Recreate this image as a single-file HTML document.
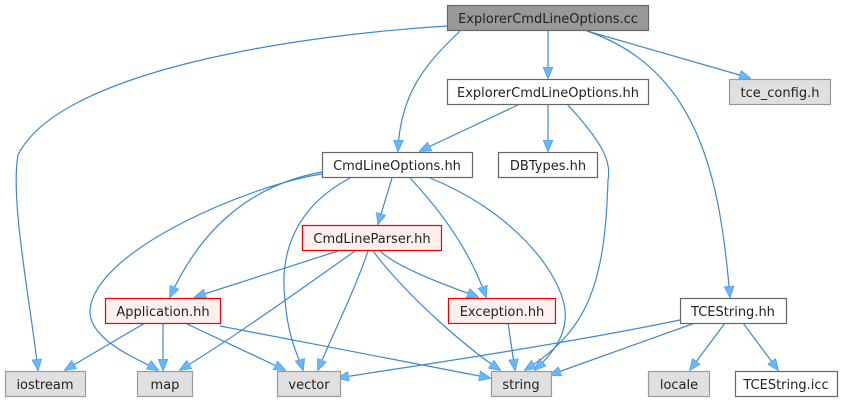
<!DOCTYPE html>
<html><head><meta charset="utf-8"><style>
html,body{margin:0;padding:0;background:#fff;}
svg{display:block;}
text{font-family:"DejaVu Sans","Liberation Sans",sans-serif;font-size:13px;fill:#222;}
</style></head><body>
<svg width="843" height="403" viewBox="0 0 843 403" xmlns="http://www.w3.org/2000/svg">
<defs>
<marker id="a" markerWidth="12" markerHeight="10" refX="11" refY="5" orient="auto" markerUnits="userSpaceOnUse">
<path d="M0,0 L12,5 L0,10 Z" fill="#63b8ff" stroke="#4a8fd0" stroke-width="0.6"/>
</marker>
</defs>
<g fill="none" stroke="#3d89cc" stroke-width="1.2" marker-end="url(#a)">
<path d="M447,26 C300,35 60,70 18,155 C10,200 30,300 38,370"/>
<path d="M460,31 C430,60 400,90 398,151"/>
<path d="M548,31 L548,78"/>
<path d="M587,31 L750,78"/>
<path d="M587,31 C700,70 720,180 730,297"/>
<path d="M520,104 L420,151"/>
<path d="M548,104 L548,151"/>
<path d="M567,104 C600,140 612,160 608,180 C605,280 590,330 525,370"/>
<path d="M322,172 C250,185 200,230 170,297"/>
<path d="M322,174 C250,185 95,250 90,310 C88,340 140,360 158,370"/>
<path d="M350,178 C290,210 280,260 285,300 C288,340 300,360 303,370"/>
<path d="M392,178 L378,224"/>
<path d="M410,178 C440,210 470,250 486,297"/>
<path d="M430,178 C510,210 560,270 565,310 C568,340 545,360 535,370"/>
<path d="M338,251 L195,297"/>
<path d="M355,251 C300,290 230,340 180,370"/>
<path d="M368,251 C355,290 330,340 318,370"/>
<path d="M380,251 C400,270 460,290 478,297"/>
<path d="M373,251 C410,300 470,350 500,370"/>
<path d="M145,323 L65,370"/>
<path d="M163,323 L163,370"/>
<path d="M185,323 L285,370"/>
<path d="M220,326 L490,378"/>
<path d="M508,323 L515,370"/>
<path d="M680,320 C560,345 400,368 338,378"/>
<path d="M695,323 L550,375"/>
<path d="M725,323 L690,370"/>
<path d="M743,323 L778,370"/>
</g>
<g stroke-width="1.2">
<rect x="447.5" y="5.5" width="201" height="25" fill="#999999" stroke="#666"/>
<rect x="447.5" y="79.5" width="201" height="25" fill="#fff" stroke="#666"/>
<rect x="729.5" y="79.5" width="101" height="25" fill="#e0e0e0" stroke="#999"/>
<rect x="322.5" y="152.5" width="150" height="25" fill="#fff" stroke="#666"/>
<rect x="498.5" y="152.5" width="99" height="25" fill="#fff" stroke="#666"/>
<rect x="302.5" y="225.5" width="139" height="25" fill="#fff0f0" stroke="#e00"/>
<rect x="105.5" y="298.5" width="115" height="25" fill="#fff0f0" stroke="#e00"/>
<rect x="448.5" y="298.5" width="107" height="25" fill="#fff0f0" stroke="#e00"/>
<rect x="680.5" y="298.5" width="106" height="25" fill="#fff" stroke="#666"/>
<rect x="5.5" y="371.5" width="80" height="25" fill="#e0e0e0" stroke="#999"/>
<rect x="137.5" y="371.5" width="55" height="25" fill="#e0e0e0" stroke="#999"/>
<rect x="277.5" y="371.5" width="63" height="25" fill="#e0e0e0" stroke="#999"/>
<rect x="491.5" y="371.5" width="60" height="25" fill="#e0e0e0" stroke="#999"/>
<rect x="648.5" y="371.5" width="61" height="25" fill="#e0e0e0" stroke="#999"/>
<rect x="735.5" y="371.5" width="102" height="25" fill="#fff" stroke="#666"/>
</g>
<g text-anchor="middle">
<text x="548" y="23">ExplorerCmdLineOptions.cc</text>
<text x="548" y="97">ExplorerCmdLineOptions.hh</text>
<text x="780" y="97">tce_config.h</text>
<text x="397" y="170">CmdLineOptions.hh</text>
<text x="548" y="170">DBTypes.hh</text>
<text x="372" y="243">CmdLineParser.hh</text>
<text x="163" y="316">Application.hh</text>
<text x="502" y="316">Exception.hh</text>
<text x="733" y="316">TCEString.hh</text>
<text x="45" y="389">iostream</text>
<text x="165" y="389">map</text>
<text x="309" y="389">vector</text>
<text x="521" y="389">string</text>
<text x="679" y="389">locale</text>
<text x="786" y="389">TCEString.icc</text>
</g>
</svg>
</body></html>
